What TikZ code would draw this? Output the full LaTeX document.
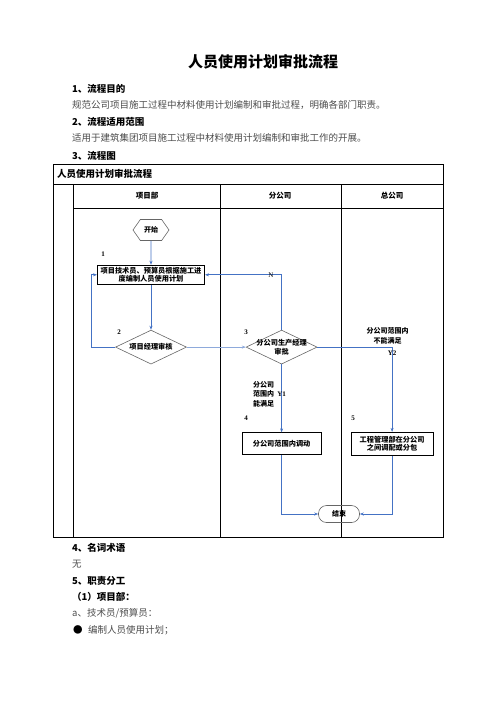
\documentclass[tikz,border=0pt]{standalone}
\usepackage{fontspec}
\setmainfont{Liberation Serif}
\newfontfamily\cjk{Noto Sans CJK SC}
\usetikzlibrary{shapes.geometric, shapes.symbols, arrows.meta, positioning}
\definecolor{flowblue}{HTML}{4472C4}
\definecolor{flowlight}{HTML}{8EAADB}

\begin{document}
\begin{tikzpicture}[x=1pt, y=-1pt,
    flow/.style={-{Stealth[length=4pt, width=3pt]}, draw=flowblue, line width=0.8pt},
    stepbox/.style={draw, line width=1pt, align=center, inner sep=1pt, font=\cjk\bfseries\fontsize{7.2}{8.4}\selectfont},
    decision/.style={diamond, aspect=2.1, draw=black!60, line width=0.6pt, minimum width=71, minimum height=34, inner sep=0pt, font=\cjk\bfseries\fontsize{7.2}{9}\selectfont},
    numlabel/.style={font=\bfseries\fontsize{7}{8}\selectfont, inner sep=0pt},
    flowtext/.style={align=center, inner sep=0pt, font=\cjk\bfseries\fontsize{7}{9.5}\selectfont},
    heading/.style={anchor=west, inner sep=0pt, font=\cjk\bfseries\fontsize{9.5}{11}\selectfont},
    bodytext/.style={anchor=west, inner sep=0pt, text=black!70, font=\cjk\fontsize{9.5}{11}\selectfont}]
    \useasboundingbox (0,0) rectangle (496,702);

    % text above the chart
    \node[font=\cjk\bfseries\fontsize{15}{18}\selectfont] (title) at (263,62) {人员使用计划审批流程};
    \node[heading] (h1) at (72,89) {1、流程目的};
    \node[bodytext] (t1) at (72,105) {规范公司项目施工过程中材料使用计划编制和审批过程，明确各部门职责。};
    \node[heading] (h2) at (72,122) {2、流程适用范围};
    \node[bodytext] (t2) at (72,138) {适用于建筑集团项目施工过程中材料使用计划编制和审批工作的开展。};
    \node[heading] (h3) at (72,156) {3、流程图};

    % table
    \draw[line width=0.9pt] (53,164) rectangle (443,537);
    \draw[line width=0.8pt] (53,184) -- (443,184);
    \draw[line width=0.8pt] (73,208) -- (443,208);
    \foreach \x in {73, 220, 341}
        \draw[line width=0.8pt] (\x,184) -- (\x,537);
    \node[anchor=west, inner sep=0pt, font=\cjk\bfseries\fontsize{9.5}{11}\selectfont] (tabtitle) at (57,174) {人员使用计划审批流程};
    \node[flowtext, font=\cjk\bfseries\fontsize{7.5}{9}\selectfont] (lane1) at (147,196) {项目部};
    \node[flowtext, font=\cjk\bfseries\fontsize{7.5}{9}\selectfont] (lane2) at (280,196) {分公司};
    \node[flowtext, font=\cjk\bfseries\fontsize{7.5}{9}\selectfont] (lane3) at (392,196) {总公司};

    % flow nodes
    \node[signal, signal to=west and east, signal pointer angle=110, draw=black!60, line width=0.6pt, minimum width=36, minimum height=21, inner sep=1pt, font=\cjk\bfseries\fontsize{7}{8}\selectfont] (start) at (151,230) {开始};
    \node[stepbox, minimum width=107, minimum height=19, below=24pt of start] (plan) {项目技术员、预算员根据施工进\\度编制人员使用计划};
    \node[decision, below=45pt of plan] (review) {项目经理审核};
    \node[decision, right=59pt of review, label={[flowtext, font=\cjk\bfseries\fontsize{7.2}{9}\selectfont]center:分公司生产经理\\审批}] (approve) {};
    \node[stepbox, minimum width=79, minimum height=22, below=68pt of approve] (branch) {分公司范围内调动};
    \node[stepbox, minimum width=82, minimum height=23, right=29pt of branch] (group) {工程管理部在分公司\\之间调配或分包};
    \node[draw=black!60, line width=0.6pt, rounded corners=8pt, minimum width=41, minimum height=17, inner sep=1pt, font=\cjk\bfseries\fontsize{7}{8}\selectfont] (finish) at (339,514) {结束};

    % step numbers
    \node[numlabel] (num1) at (103,254) {1};
    \node[numlabel] (num2) at (119,332) {2};
    \node[numlabel] (num3) at (246,332) {3};
    \node[numlabel] (num4) at (246,418) {4};
    \node[numlabel] (num5) at (353,418) {5};

    % connectors
    \draw[flow] (start) -- (plan);
    \draw[flow] (plan) -- (review);
    \draw[flow] (review.west) -- ++(-24,0) |- (plan.west);
    \draw[flow, draw=flowlight, line width=0.6pt] (review) -- (approve);
    \draw[flow] (approve.north) |- node[pos=0.57, inner sep=0pt, font=\fontsize{7}{8}\selectfont] {N} (plan.east);
    \draw[flow] (approve.south) -- node[pos=0.44, left=7pt, flowtext, align=left] {分公司\\范围内\\能满足}
        node[pos=0.44, inner sep=0pt, font=\bfseries\fontsize{7}{8}\selectfont] {Y1} (branch.north);
    \draw[flow] (approve.east) -| node[pos=0.47, above=3pt, flowtext] {分公司范围内\\不能满足}
        node[pos=0.535, inner sep=0pt, font=\bfseries\fontsize{7}{8}\selectfont] {Y2} (group.north);
    \draw[flow] (branch.south) |- (finish.west);
    \draw[flow] (group.south) |- (finish.east);

    % text below the chart
    \node[heading] (h4) at (72,548) {4、名词术语};
    \node[bodytext] (t4) at (72,564) {无};
    \node[heading] (h5) at (72,581) {5、职责分工};
    \node[heading] (h6) at (72,597) {（1）项目部：};
    \node[bodytext] (t6) at (72,613) {a、技术员/预算员：};
    \node[bodytext, text=black] (dot) at (73,630) {●};
    \node[bodytext, right=5pt of dot] (t7) {编制人员使用计划；};
\end{tikzpicture}
\end{document}
